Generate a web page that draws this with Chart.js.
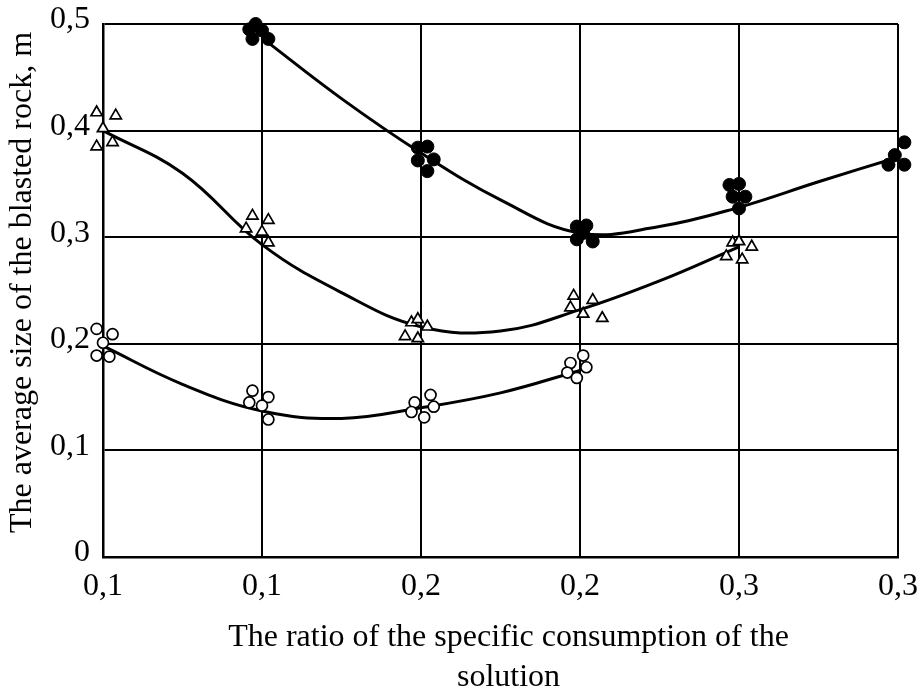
<!DOCTYPE html>
<html lang="en">
<head>
    <meta charset="UTF-8">
    <title>Average size of the blasted rock</title>
    <style>
        body { margin: 0; background: #fff; }
        #wrap { width: 921px; height: 689px; }
    </style>
</head>
<body>
    <div id="wrap"><canvas id="rockChart"></canvas></div>

    <script src="https://cdn.jsdelivr.net/npm/chart.js@4.4.1/dist/chart.umd.min.js"></script>
    <script>
        // tick labels as printed on the figure
        const xTickLabels = ['0,1', '0,1', '0,2', '0,2', '0,3', '0,3'];
        const yTickLabels = ['0', '0,1', '0,2', '0,3', '0,4', '0,5'];

        // filled circles (measured points)
        const filledX = [0.098, 0.096, 0.100, 0.097, 0.102,  0.149, 0.152, 0.149, 0.154, 0.152,
                         0.199, 0.202, 0.199, 0.204, 0.201,  0.247, 0.250, 0.248, 0.252, 0.250,
                         0.302, 0.303, 0.299, 0.297, 0.302];
        const filledY = [0.500, 0.495, 0.494, 0.486, 0.486,  0.384, 0.385, 0.372, 0.373, 0.362,
                         0.310, 0.311, 0.298, 0.296, 0.304,  0.349, 0.350, 0.338, 0.338, 0.327,
                         0.389, 0.379, 0.377, 0.368, 0.368];

        // triangles
        const triX = [0.048, 0.054, 0.050, 0.048, 0.053,  0.097, 0.102, 0.095, 0.100, 0.102,
                      0.147, 0.149, 0.152, 0.145, 0.149,  0.198, 0.204, 0.197, 0.201, 0.207,
                      0.248, 0.250, 0.254, 0.246, 0.251];
        const triY = [0.417, 0.414, 0.402, 0.385, 0.389,  0.320, 0.316, 0.308, 0.305, 0.295,
                      0.220, 0.223, 0.216, 0.207, 0.205,  0.245, 0.241, 0.234, 0.228, 0.224,
                      0.295, 0.296, 0.291, 0.282, 0.279];

        // open circles
        const openX = [0.048, 0.053, 0.050, 0.048, 0.052,  0.097, 0.102, 0.096, 0.100, 0.102,
                       0.148, 0.153, 0.154, 0.147, 0.151,  0.197, 0.201, 0.202, 0.196, 0.199];
        const openY = [0.214, 0.209, 0.201, 0.189, 0.188,  0.156, 0.150, 0.145, 0.142, 0.129,
                       0.145, 0.152, 0.141, 0.136, 0.131,  0.182, 0.189, 0.178, 0.173, 0.168];

        // fitted curves
        const filledCurveX = [0.10, 0.125, 0.15, 0.175, 0.20, 0.225, 0.25, 0.275, 0.30];
        const filledCurveY = [0.487, 0.430, 0.379, 0.335, 0.304, 0.310, 0.328, 0.352, 0.375];
        const triCurveX = [0.05, 0.075, 0.10, 0.125, 0.15, 0.175, 0.20, 0.225, 0.25];
        const triCurveY = [0.400, 0.360, 0.293, 0.248, 0.216, 0.212, 0.232, 0.259, 0.291];
        const openCurveX = [0.05, 0.075, 0.10, 0.125, 0.15, 0.175, 0.20];
        const openCurveY = [0.198, 0.162, 0.137, 0.130, 0.140, 0.154, 0.175];

        const toPoints = (xs, ys) => xs.map((x, i) => ({ x: x, y: ys[i] }));
        const serif = 'Liberation Serif, Times New Roman, serif';

        function curve(xs, ys) {
            return {
                data: toPoints(xs, ys),
                showLine: true,
                borderColor: '#000',
                borderWidth: 3,
                pointRadius: 0,
                tension: 0.4,
                fill: false,
                clip: false,
                order: 2
            };
        }

        document.addEventListener('DOMContentLoaded', function() {
            const ctx = document.getElementById('rockChart').getContext('2d');

            new Chart(ctx, {
                type: 'scatter',
                data: {
                    datasets: [
                        curve(filledCurveX, filledCurveY),
                        curve(triCurveX, triCurveY),
                        curve(openCurveX, openCurveY),
                        {
                            data: toPoints(filledX, filledY),
                            pointStyle: 'circle',
                            pointRadius: 6.5,
                            backgroundColor: '#000',
                            borderColor: '#000',
                            borderWidth: 1,
                            clip: false,
                            order: 1
                        },
                        {
                            data: toPoints(triX, triY),
                            pointStyle: 'triangle',
                            pointRadius: 6.5,
                            backgroundColor: '#fff',
                            borderColor: '#000',
                            borderWidth: 1.7,
                            clip: false,
                            order: 1
                        },
                        {
                            data: toPoints(openX, openY),
                            pointStyle: 'circle',
                            pointRadius: 5.5,
                            backgroundColor: '#fff',
                            borderColor: '#000',
                            borderWidth: 1.7,
                            clip: false,
                            order: 1
                        }
                    ]
                },
                options: {
                    responsive: true,
                    maintainAspectRatio: false,
                    animation: false,
                    events: [],
                    layout: { padding: { top: 24, right: 23, left: 0, bottom: 0 } },
                    plugins: {
                        legend: { display: false },
                        tooltip: { enabled: false }
                    },
                    scales: {
                        x: {
                            type: 'linear',
                            min: 0.05,
                            max: 0.30,
                            afterFit: function(scale) {
                                scale.height = 132;
                                scale.paddingLeft = 0;
                                scale.paddingRight = 0;
                            },
                            ticks: {
                                stepSize: 0.05,
                                padding: 10,
                                color: '#000',
                                font: { family: serif, size: 32 },
                                callback: function(value, index) { return xTickLabels[index]; }
                            },
                            grid: { color: '#000', lineWidth: 2, drawTicks: false },
                            border: { color: '#000', width: 2.5 },
                            title: {
                                display: true,
                                text: ['  The ratio of the specific consumption of the', '  solution'],
                                color: '#000',
                                font: { family: serif, size: 32, lineHeight: 1.25 },
                                padding: { top: 0, bottom: -9 }
                            }
                        },
                        y: {
                            min: 0,
                            max: 0.5,
                            afterFit: function(scale) {
                                scale.width = 103;
                                scale.paddingTop = 0;
                                scale.paddingBottom = 0;
                            },
                            ticks: {
                                stepSize: 0.1,
                                padding: 13,
                                labelOffset: -4,
                                color: '#000',
                                font: { family: serif, size: 32 },
                                callback: function(value, index) { return yTickLabels[index]; }
                            },
                            grid: { color: '#000', lineWidth: 2, drawTicks: false },
                            border: { color: '#000', width: 2.5 },
                            title: {
                                display: true,
                                text: '  The average size of the blasted rock, m',
                                color: '#000',
                                font: { family: serif, size: 32, lineHeight: 1.2 },
                                padding: { top: 3, bottom: 0 }
                            }
                        }
                    }
                }
            });
        });
    </script>
</body>
</html>
